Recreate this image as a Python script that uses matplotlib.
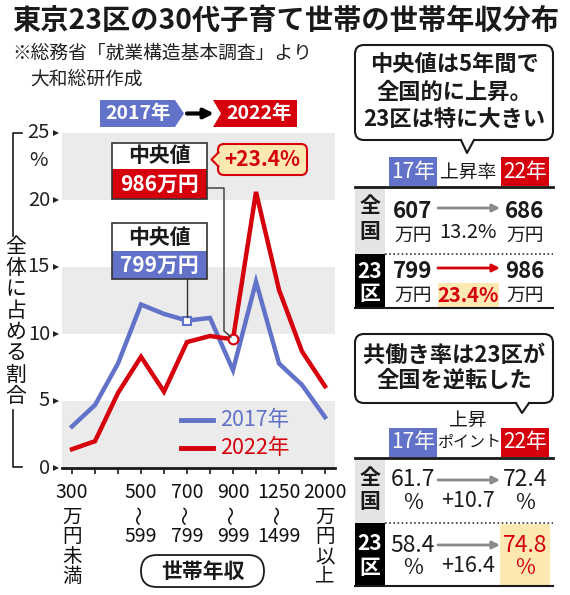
import matplotlib
matplotlib.use('Agg')
import matplotlib.pyplot as plt
import matplotlib.transforms as mtransforms
from matplotlib.patches import Rectangle, Polygon, FancyBboxPatch, FancyArrowPatch
from matplotlib.lines import Line2D

plt.rcParams['font.family'] = ['Noto Sans CJK JP', 'DejaVu Sans']

# ---------------- data ----------------
categories = ['300万円未満', '300～399', '400～499', '500～599', '600～699', '700～799',
              '800～899', '900～999', '1000～1249', '1250～1499', '1500～1999', '2000万円以上']
share_2017 = [3.1, 4.7, 7.8, 12.2, 11.5, 11.0, 11.2, 7.3, 13.9, 7.8, 6.2, 3.8]
share_2022 = [1.4, 2.0, 5.6, 8.3, 5.7, 9.4, 9.85, 9.6, 20.6, 13.3, 8.7, 6.1]
y_ticks = [0, 5, 10, 15, 20, 25]
tick_idx = [0, 3, 5, 7, 9, 11]
tick_top = ['300', '500', '700', '900', '1250', '2000']
tick_bottom = ['万円未満', '599', '799', '999', '1499', '万円以上']
median_idx_2017 = 5
median_idx_2022 = 7
median_label_2017 = '799万円'
median_label_2022 = '986万円'
median_change = '+23.4%'

regions = ['全国', '23区']
median_17 = [607, 799]
median_22 = [686, 986]
median_rate = ['13.2%', '23.4%']
dual_17 = [61.7, 58.4]
dual_22 = [72.4, 74.8]
dual_pts = ['+10.7', '+16.4']

BLUE = '#6272C8'
RED = '#D5000C'
GRAY_BAND = '#EBEBEB'
YELLOW = '#FCE9B2'
DARK = '#1a1a1a'

W, H = 570, 595
fig = plt.figure(figsize=(W / 100, H / 100), dpi=100)
fig.patch.set_facecolor('white')
PX = mtransforms.Affine2D().scale(1 / W, -1 / H).translate(0, 1) + fig.transFigure


def text(x, y, s, size=14, color=DARK, weight='normal', ha='center', va='center', z=6, **kw):
    return fig.text(x, y, s, transform=PX, fontsize=size, color=color, fontweight=weight,
                    ha=ha, va=va, zorder=z, **kw)


def rect(x0, y0, x1, y1, fc, ec='none', lw=0, z=2):
    fig.add_artist(Rectangle((x0, y0), x1 - x0, y1 - y0, transform=PX, fc=fc, ec=ec, lw=lw, zorder=z))


def poly(pts, fc, ec='none', lw=0, z=2):
    fig.add_artist(Polygon(pts, closed=True, transform=PX, fc=fc, ec=ec, lw=lw, zorder=z))


def line(xs, ys, color=DARK, lw=1, ls='-', z=3):
    fig.add_artist(Line2D(xs, ys, transform=PX, color=color, lw=lw, ls=ls, zorder=z))


def rbox(x0, y0, x1, y1, fc, ec, lw, r, z=2):
    fig.add_artist(FancyBboxPatch((x0, y0), x1 - x0, y1 - y0, transform=PX,
                                  boxstyle=f'round,pad=0,rounding_size={r}',
                                  fc=fc, ec=ec, lw=lw, zorder=z))


def arrow(x0, x1, y, color, lw=2, ms=12, z=4):
    fig.add_artist(FancyArrowPatch((x0, y), (x1, y), transform=PX, arrowstyle='-|>',
                                   mutation_scale=ms, color=color, lw=lw, zorder=z,
                                   shrinkA=0, shrinkB=0))


# ---------------- title ----------------
text(12, 21, '東京23区の30代子育て世帯の世帯年収分布', size=20.3, weight='bold', ha='left')
text(12, 53, '※総務省「就業構造基本調査」より', size=13.5, ha='left', color='#222')
text(30, 79, '大和総研作成', size=13.5, ha='left', color='#222')

# header 2017 -> 2022
poly([(100, 100), (175, 100), (184, 113.5), (175, 127), (100, 127)], BLUE)
text(138, 113.5, '2017年', size=14, color='white', weight='bold')
arrow(187, 214, 113.5, 'black', lw=3, ms=14)
poly([(213, 100), (297, 100), (297, 127), (213, 127), (221, 113.5)], RED)
text(259, 113.5, '2022年', size=14, color='white', weight='bold')

# ---------------- main axes ----------------
x0p, x1p, y0p, y1p = 62, 335, 468, 133
ax = fig.add_axes([x0p / W, 1 - y0p / H, (x1p - x0p) / W, (y0p - y1p) / H])
ax.set_facecolor('white')
step = (325 - 72) / 11
ax.set_xlim(-(72 - x0p) / step, 11 + (x1p - 325) / step)
ax.set_ylim(0, 25)
for lo in (0, 10, 20):
    ax.axhspan(lo, lo + 5, color=GRAY_BAND, lw=0, zorder=0)
xs = list(range(len(categories)))
ax.plot(xs, share_2017, color=BLUE, lw=3.2, solid_joinstyle='miter', zorder=3)
ax.plot(xs, share_2022, color=RED, lw=3.2, solid_joinstyle='miter', zorder=4)
ax.plot([median_idx_2017], [share_2017[median_idx_2017]], marker='s', ms=6, mfc='white',
        mec=BLUE, mew=1.5, zorder=5)
ax.plot([median_idx_2022], [share_2022[median_idx_2022]], marker='o', ms=7, mfc='white',
        mec=RED, mew=1.5, zorder=5)
for s in ('top', 'right', 'left'):
    ax.spines[s].set_visible(False)
ax.spines['bottom'].set_linewidth(2)
ax.spines['bottom'].set_color(DARK)
ax.set_xticks(xs)
ax.set_xticklabels([])
ax.tick_params(axis='x', length=4, width=1.2, color=DARK, direction='out')
ax.set_yticks([])

# y tick labels
ytr = mtransforms.blended_transform_factory(PX, ax.transData)
for v in y_ticks:
    ax.text(50, v, str(v), transform=ytr, fontsize=14.5, ha='right', va='center',
            color='#222', clip_on=False)
    ax.plot([56], [v], transform=ytr, marker='>', ms=4, color='#222', clip_on=False, mew=0)
text(38, 160, '%', size=14.5, color='#222')

# y label with bracket
ylabel = '全体に占める割合'
for i, ch in enumerate(ylabel):
    text(16, 247 + i * 21.3, ch, size=15, color='#111')
line([22, 13, 13], [133, 133, 236], lw=1.2)
line([13, 13, 22], [410, 467, 467], lw=1.2)

# x tick labels
xtr = mtransforms.blended_transform_factory(ax.transData, PX)
for idx, top, bot in zip(tick_idx, tick_top, tick_bottom):
    ax.text(idx, 492, top, transform=xtr, fontsize=14, ha='center', va='center',
            color='#111', clip_on=False)
    if bot.startswith('万'):
        for j, ch in enumerate(bot):
            ax.text(idx, 517 + j * 19.7, ch, transform=xtr, fontsize=14, ha='center',
                    va='center', color='#111', clip_on=False)
    else:
        ax.text(idx, 515, '〜', transform=xtr, fontsize=14, ha='center', va='center',
                rotation=90, color='#111', clip_on=False)
        ax.text(idx, 537, bot, transform=xtr, fontsize=14, ha='center', va='center',
                color='#111', clip_on=False)

# x axis label pill
rbox(141, 555, 264, 587, 'white', DARK, 1.3, 16)
text(202.5, 571, '世帯年収', size=15, weight='bold')

# legend
line([181, 213], [420, 420], color=BLUE, lw=3.5, z=5)
text(220, 420, '2017年', size=15.5, color=BLUE, ha='left')
line([181, 213], [448, 448], color=RED, lw=3.5, z=5)
text(220, 448, '2022年', size=15.5, color=RED, ha='left')

# median annotations
rect(112, 143, 207, 169, 'white', z=4)
rect(112, 169, 207, 199, RED, z=4)
rect(112, 143, 207, 199, 'none', ec='#333', lw=1.2, z=5)
text(159.5, 156, '中央値', size=15, weight='bold')
text(159.5, 184, median_label_2022, size=15, weight='bold', color='white')
line([207, 224, 224, 231], [188, 188, 331, 337], color='#333', lw=1, z=5)

rbox(218, 144, 307, 175, YELLOW, RED, 1.5, 6, z=4)
poly([(219, 152.5), (211.5, 159.5), (219, 166.5)], YELLOW, z=5)
line([218.5, 211.5, 218.5], [152.5, 159.5, 166.5], color=RED, lw=1.5, z=5)
text(262.5, 159.5, median_change, size=15, weight='bold', color=RED)

rect(112, 223, 207, 251, 'white', z=4)
rect(112, 251, 207, 279, BLUE, z=4)
rect(112, 223, 207, 279, 'none', ec='#333', lw=1.2, z=5)
text(159.5, 237, '中央値', size=15, weight='bold')
text(159.5, 265, median_label_2017, size=15, weight='bold', color='white')
line([187, 187], [279, 317], color='#333', lw=1, z=5)


# ---------------- right panel ----------------
def callout(y0, y1, bx0, bx1, tipx, tipy, lines_, ys):
    rbox(355, y0, 553, y1, 'white', DARK, 1.5, 9, z=2)
    poly([(bx0, y1 - 1.5), (bx1, y1 - 1.5), (tipx, tipy)], 'white', z=3)
    line([bx0, tipx, bx1], [y1, tipy, y1], lw=1.5, z=3)
    for s, yy in zip(lines_, ys):
        text(454, yy, s, size=16, weight='bold')


def hdr(yc, h=29):
    rect(389, yc - h / 2, 437, yc + h / 2, BLUE)
    text(413, yc, '17年', size=15, color='white')
    rect(501, yc - h / 2, 549, yc + h / 2, RED)
    text(525, yc, '22年', size=15, color='white')


callout(45, 140, 461, 474, 467, 153, ['中央値は5年間で', '全国的に上昇。', '23区は特に大きい'], [64, 92, 119])
hdr(171.5)
text(468, 172, '上昇率', size=13.5)
line([355, 553], [187, 187], lw=2)

# median table rows
rows1 = [(187, 254), (254, 307)]
for i, (ya, yb) in enumerate(rows1):
    is23 = regions[i] == '23区'
    rect(355, ya, 385, yb, 'black' if is23 else '#E4E4E4')
    lbl = regions[i]
    top_c, bot_c = (lbl[:2], lbl[2:]) if is23 else (lbl[0], lbl[1])
    tc = 'white' if is23 else DARK
    yt = ya + 19 if not is23 else ya + 17
    yb_ = yt + 25 if not is23 else yt + 22
    text(370, yt, top_c, size=15, weight='bold', color=tc)
    text(370, yb_, bot_c, size=15, weight='bold', color=tc)
    yn = ya + 24 if not is23 else ya + 17
    text(413, yn, str(median_17[i]), size=16, weight='bold')
    text(413, yn + 24, '万円', size=13.5)
    text(525, yn, str(median_22[i]), size=16, weight='bold')
    text(525, yn + 24, '万円', size=13.5)
    arrow(438, 500, yn - 3, RED if is23 else '#8a8a8a', lw=2, ms=11)
    if is23:
        rect(438, yn + 12, 499, yb, YELLOW)
        text(468, yn + 24, median_rate[i], size=14.5, weight='bold', color=RED)
    else:
        text(468, yn + 21, median_rate[i], size=14.5)
line([385, 553], [254, 254], lw=1.2, ls=(0, (1, 1.5)), color='#333')
line([355, 553], [307.5, 307.5], lw=1.5)

# dual income table
callout(334, 403, 516, 529, 522, 413, ['共働き率は23区が', '全国を逆転した'], [355, 380])
text(468, 420, '上昇', size=13.5)
text(469, 442, 'ポイント', size=11.5)
hdr(442.5)
line([355, 553], [458, 458], lw=2)
rows2 = [(458, 523), (523, 585)]
for i, (ya, yb) in enumerate(rows2):
    is23 = regions[i] == '23区'
    rect(355, ya, 385, yb, 'black' if is23 else '#E4E4E4')
    lbl = regions[i]
    top_c, bot_c = (lbl[:2], lbl[2:]) if is23 else (lbl[0], lbl[1])
    tc = 'white' if is23 else DARK
    text(370, ya + 19 if not is23 else ya + 20, top_c, size=15, weight='bold', color=tc)
    text(370, ya + 44, bot_c, size=15, weight='bold', color=tc)
    yn = ya + 22
    text(413, yn, f'{dual_17[i]:.1f}', size=16.5)
    text(413, yn + 23, '%', size=15.5)
    arrow(438, 500, yn, '#8a8a8a', lw=2, ms=11)
    text(468, yn + 21, dual_pts[i], size=15.5)
    if is23:
        rect(500, ya + 0.5, 550, yb, YELLOW)
    c = RED if is23 else DARK
    text(525, yn, f'{dual_22[i]:.1f}', size=16.5, color=c)
    text(525, yn + 23, '%', size=15.5, color=c)
line([385, 553], [523, 523], lw=1.2, ls=(0, (1, 1.5)), color='#333')
line([355, 553], [585.5, 585.5], lw=1.5)

fig.savefig('out.png', dpi=100)
